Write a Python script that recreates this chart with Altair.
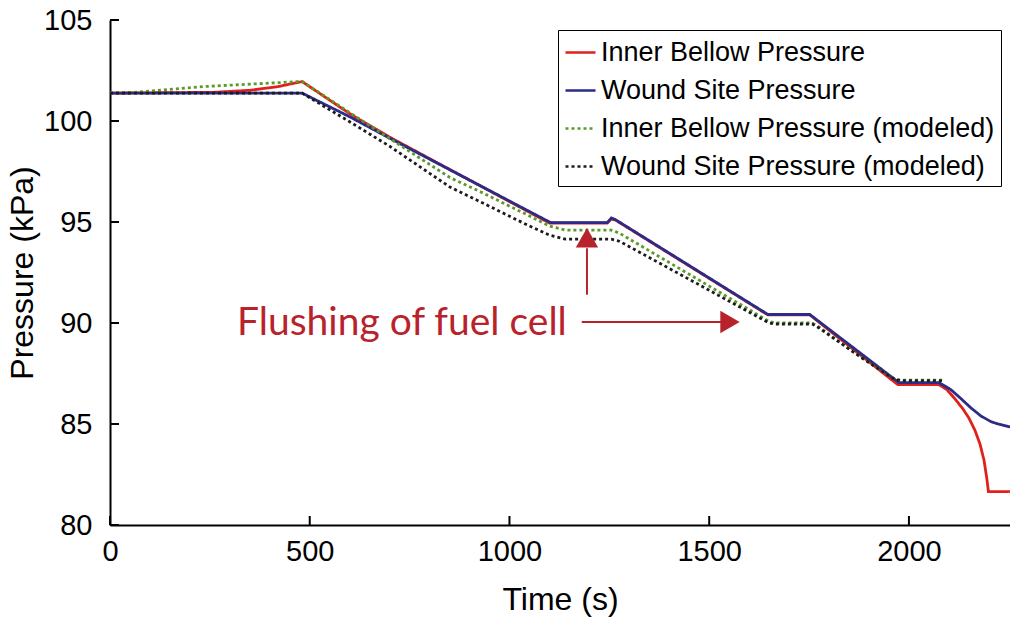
import altair as alt
import pandas as pd

series_names = ["Inner Bellow Pressure", "Wound Site Pressure",
                "Inner Bellow Pressure (modeled)", "Wound Site Pressure (modeled)"]
series_colors = ["#e0201b", "#2b2b88", "#5a9a28", "#1c1c1c"]
series_dash = [[1, 0], [1, 0], [3, 3], [3, 3]]

inner_t = [0, 260, 350, 420, 456, 481, 601, 700, 1100, 1245, 1255, 1265, 1647, 1752,
           1972, 2075, 2095, 2115, 2135, 2150, 2165, 2178, 2188, 2195, 2199, 2253]
inner_p = [101.38, 101.42, 101.52, 101.7, 101.85, 101.95, 100.35, 99.2, 94.95, 94.95,
           95.15, 95.1, 90.4, 90.4, 86.95, 86.95, 86.7, 86.25, 85.75, 85.3, 84.7, 84.0,
           83.2, 82.3, 81.65, 81.65]

wound_t = [0, 481, 601, 700, 1103, 1245, 1255, 1265, 1647, 1752, 1975, 2075, 2105, 2130,
           2155, 2180, 2205, 2223, 2253]
wound_p = [101.38, 101.38, 100.2, 99.15, 94.97, 94.97, 95.2, 95.12, 90.42, 90.42, 87.05,
           87.05, 86.7, 86.26, 85.8, 85.4, 85.12, 85.0, 84.85]

inner_mod_t = [0, 60, 240, 481, 601, 851, 927, 1050, 1100, 1140, 1255, 1275, 1650, 1665,
               1758, 1775, 1880, 1965, 1980, 2085]
inner_mod_p = [101.4, 101.42, 101.71, 101.96, 100.4, 97.2, 96.5, 95.3, 94.8, 94.6, 94.6,
               94.45, 90.08, 90.0, 90.0, 89.8, 88.3, 87.22, 87.17, 87.17]

wound_mod_t = [0, 481, 601, 700, 851, 927, 1050, 1100, 1140, 1255, 1275, 1650, 1665,
               1758, 1775, 1880, 1965, 1980, 2085]
wound_mod_p = [101.38, 101.38, 99.95, 98.75, 96.73, 96.0, 94.8, 94.35, 94.15, 94.15,
               94.05, 90.0, 89.95, 89.95, 89.75, 88.3, 87.2, 87.15, 87.15]

x_ticks = [0, 500, 1000, 1500, 2000]
y_ticks = [80, 85, 90, 95, 100, 105]

annotation_text = ["Flushing of fuel cell"]
annotation_t = [318]
annotation_p = [89.4]

# arrow data (time, pressure)
vstem_t, vstem_p1, vstem_p2 = [1194], [91.4], [93.7]
hstem_p, hstem_t1, hstem_t2 = [90.05], [1181], [1545]
head_t = [1194, 1552]
head_p = [94.22, 90.05]
head_shape = ["triangle-up", "triangle-right"]

rows = []
for name, ts, ps in zip(series_names, [inner_t, wound_t, inner_mod_t, wound_mod_t],
                        [inner_p, wound_p, inner_mod_p, wound_mod_p]):
    for i, (t, p) in enumerate(zip(ts, ps)):
        rows.append({"series": name, "t": t, "p": p, "order": i})
df = pd.DataFrame(rows)

x_scale = alt.Scale(domain=[0, 2253], nice=False, zero=False)
y_scale = alt.Scale(domain=[80, 105], nice=False, zero=False)
x_axis = alt.Axis(values=x_ticks, format="d", title="Time (s)", labelPadding=12,
                  titlePadding=18, labelFlush=False)
y_axis = alt.Axis(values=y_ticks, format="d", title="Pressure (kPa)", labelPadding=18,
                  titlePadding=4, labelFlush=False)


def X(field):
    return alt.X(field, scale=x_scale, axis=x_axis, title="Time (s)")


def Y(field):
    return alt.Y(field, scale=y_scale, axis=y_axis, title="Pressure (kPa)")


legend = alt.Legend(
    title=None, orient="none", legendX=448, legendY=10,
    symbolType="stroke", symbolSize=900, symbolStrokeWidth=2.6,
    labelFontSize=27, labelFont="Liberation Sans", labelColor="black",
    strokeColor="black", fillColor="white", padding=6, rowPadding=8,
    labelOffset=4, labelLimit=600,
)

lines = alt.Chart(df).mark_line(strokeWidth=2.8, clip=True).encode(
    x=X("t:Q"),
    y=Y("p:Q"),
    color=alt.Color("series:N", scale=alt.Scale(domain=series_names, range=series_colors),
                    legend=legend),
    strokeDash=alt.StrokeDash("series:N", scale=alt.Scale(domain=series_names, range=series_dash),
                              legend=legend),
    order="order:Q",
)

ytick = alt.Chart(pd.DataFrame({"v": y_ticks})).mark_rule(color="black", strokeWidth=2).encode(
    y=Y("v:Q"), x=alt.value(0), x2=alt.value(9))
xtick = alt.Chart(pd.DataFrame({"v": x_ticks})).mark_rule(color="black", strokeWidth=2).encode(
    x=X("v:Q"), y=alt.value(505), y2=alt.value(496))

ann = alt.Chart(pd.DataFrame({"t": annotation_t, "p": annotation_p, "label": annotation_text})).mark_text(
    align="left", baseline="alphabetic", font="Lato", fontSize=39, color="#b8232b").encode(
    x=X("t:Q"), y=Y("p:Q"), text="label:N")

arrow_color = "#b8232b"
vstem = alt.Chart(pd.DataFrame({"t": vstem_t, "p1": vstem_p1, "p2": vstem_p2})).mark_rule(
    color=arrow_color, strokeWidth=2).encode(
    x=X("t:Q"), y=Y("p1:Q"), y2="p2:Q")
hstem = alt.Chart(pd.DataFrame({"p": hstem_p, "t1": hstem_t1, "t2": hstem_t2})).mark_rule(
    color=arrow_color, strokeWidth=2).encode(
    y=Y("p:Q"), x=X("t1:Q"), x2="t2:Q")
heads = alt.Chart(pd.DataFrame({"t": head_t, "p": head_p, "shape": head_shape})).mark_point(
    filled=True, size=500, color=arrow_color, opacity=1).encode(
    x=X("t:Q"), y=Y("p:Q"),
    shape=alt.Shape("shape:N", scale=None))

chart = alt.layer(lines, ytick, xtick, ann, vstem, hstem, heads).properties(
    width=900, height=505,
    autosize=alt.AutoSizeParams(type="none"),
    padding={"left": 110, "top": 20, "right": 0, "bottom": 92},
).configure_view(stroke=None).configure_axis(
    domainColor="black", domainWidth=2, ticks=False, grid=False,
    labelFont="Liberation Sans", labelFontSize=29, labelColor="black",
    titleFont="Liberation Sans", titleFontSize=32, titleFontWeight="normal", titleColor="black",
)

chart.save("out.html", embed_options={"renderer": "svg", "actions": False})
